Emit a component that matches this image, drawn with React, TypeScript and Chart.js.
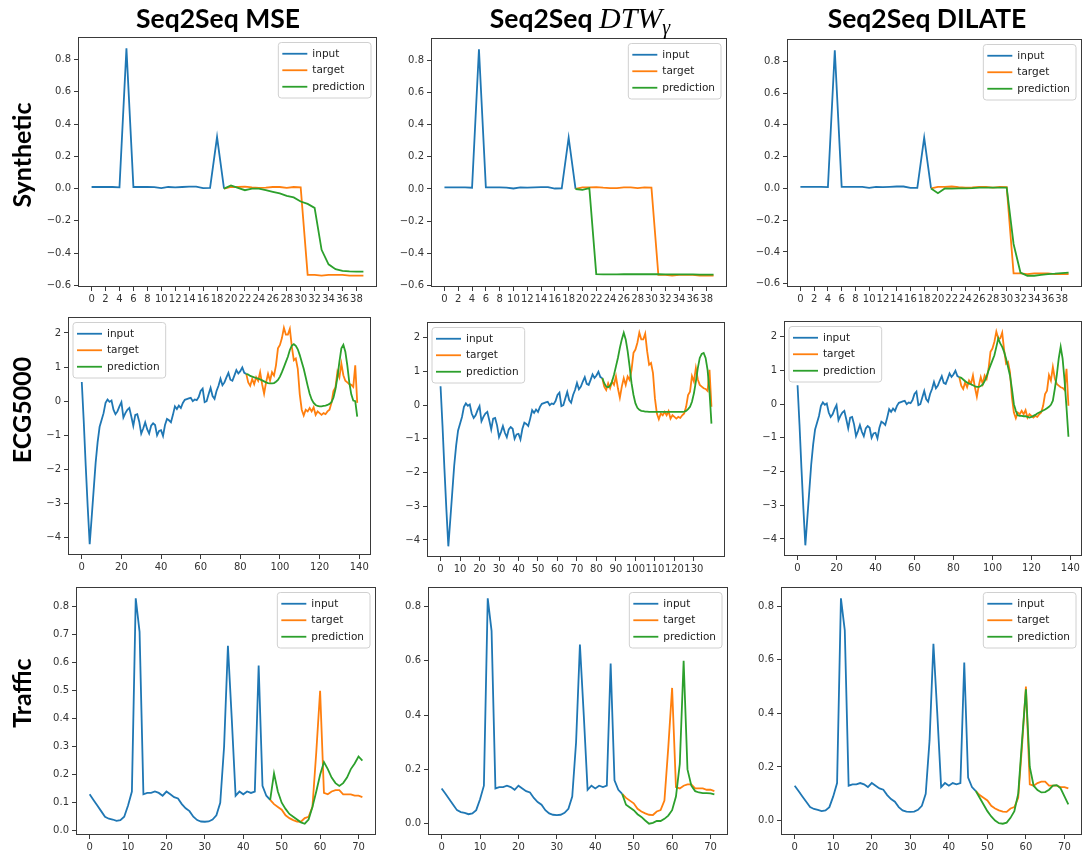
import React, { useEffect, useRef } from 'react';
import { Chart, registerables } from 'chart.js';

Chart.register(...registerables);

const BLUE = '#1f77b4';
const ORANGE = '#ff7f0e';
const GREEN = '#2ca02c';
const SPINE = '#3a3a3a';
const TEXT = '#333333';

// ---------- Synthetic ----------
const synthInput = [0.01, 0.01, 0.01, 0.01, 0.008, 0.87, 0.01, 0.01, 0.01, 0.009, 0.003, 0.01, 0.008, 0.01, 0.012, 0.012, 0.003, 0.004, 0.32, 0.0];
// target / prediction series start at the last input index (19)
const synthTarget = [0.0, 0.01, 0.01, 0.012, 0.008, 0.005, 0.006, 0.01, 0.01, 0.005, 0.01, 0.008, -0.535, -0.535, -0.54, -0.535, -0.535, -0.535, -0.54, -0.54, -0.54];
const synthPredMSE = [0.0, 0.02, 0.005, -0.01, 0.0, 0.0, -0.01, -0.02, -0.03, -0.045, -0.055, -0.08, -0.095, -0.12, -0.38, -0.47, -0.5, -0.51, -0.513, -0.515, -0.515];
const synthPredDTW = [0.0, -0.005, 0.005, -0.53, -0.532, -0.532, -0.532, -0.531, -0.531, -0.531, -0.531, -0.531, -0.531, -0.532, -0.532, -0.532, -0.532, -0.532, -0.533, -0.533, -0.533];
const synthPredDILATE = [0.0, -0.03, 0.0, -0.002, 0.0, 0.0, 0.002, 0.005, 0.005, 0.005, 0.005, 0.005, -0.35, -0.53, -0.55, -0.55, -0.545, -0.54, -0.537, -0.533, -0.53];
const synthXTicks = [0, 2, 4, 6, 8, 10, 12, 14, 16, 18, 20, 22, 24, 26, 28, 30, 32, 34, 36, 38];
const synthYTicks = [-0.6, -0.4, -0.2, 0, 0.2, 0.4, 0.6, 0.8];

// ---------- ECG5000 ----------
const ecgInput = [
  0.56, -0.6, -1.9, -3.1, -4.19, -3.4, -2.6, -1.8, -1.2, -0.75,
  -0.55, -0.35, -0.05, 0.05, -0.02, 0.02, -0.25, -0.38, -0.3, -0.15,
  -0.03, -0.48, -0.35, -0.25, -0.2, -0.45, -0.72, -0.4, -0.38, -0.6,
  -0.95, -0.8, -0.62, -0.82, -0.95, -0.72, -0.65, -0.7, -1.0, -0.87,
  -0.85, -1.02, -0.7, -0.52, -0.56, -0.62, -0.4, -0.15, -0.23, -0.13,
  -0.2, -0.05, 0.04, 0.06, 0.08, 0.1, 0.0, 0.05, 0.03, 0.12,
  0.3, 0.37, -0.03, 0.0, 0.2, 0.39, 0.15, 0.07, 0.3, 0.45,
  0.66, 0.47, 0.55, 0.7, 0.83, 0.63, 0.6, 0.75, 0.91, 0.81,
  0.88, 0.99, 0.83, 0.8,
];
// start at index 83
const ecgTarget = [
  0.8, 0.55, 0.45, 0.65, 0.5, 0.7, 0.6, 0.85, 0.5, 0.22,
  0.55, 0.8, 0.6, 0.85, 0.75, 1.05, 1.55, 1.65, 1.85, 2.15,
  1.95, 1.95, 2.12, 1.6, 1.2, 1.25, 0.95, 0.2, -0.25, -0.42,
  -0.25, -0.3, -0.2, -0.3, -0.18, -0.4, -0.3, -0.35, -0.4, -0.35,
  -0.38, -0.3, -0.25, -0.05, 0.3, 0.4, 0.86, 0.7, 1.1, 0.76,
  0.6, 0.55, 0.5, 0.48, 0.42, 1.05, -0.05,
];
const ecgPredMSE = [
  0.8, 0.78, 0.74, 0.72, 0.7, 0.68, 0.66, 0.64, 0.61, 0.58,
  0.55, 0.53, 0.52, 0.52, 0.53, 0.57, 0.62, 0.72, 0.85, 1.0,
  1.15, 1.3, 1.5, 1.63, 1.67, 1.62, 1.52, 1.35, 1.15, 0.95,
  0.7, 0.45, 0.22, 0.05, -0.05, -0.11, -0.14, -0.15, -0.15, -0.14,
  -0.13, -0.11, -0.08, -0.03, 0.1, 0.35, 0.7, 1.15, 1.55, 1.65,
  1.45, 1.05, 0.55, 0.2, 0.02, 0.0, -0.45,
];
const ecgPredDTW = [
  0.8, 0.65, 0.55, 0.53, 0.58, 0.7, 0.9, 1.15, 1.4, 1.7,
  1.95, 2.15, 1.95, 1.6, 1.15, 0.65, 0.3, 0.05, -0.08, -0.14,
  -0.17, -0.18, -0.19, -0.19, -0.2, -0.2, -0.2, -0.2, -0.2, -0.2,
  -0.2, -0.2, -0.2, -0.2, -0.2, -0.2, -0.2, -0.2, -0.2, -0.2,
  -0.2, -0.2, -0.19, -0.17, -0.12, -0.05, 0.1, 0.35, 0.7, 1.1,
  1.4, 1.52, 1.55, 1.4, 1.05, 0.4, -0.55,
];
const ecgPredDILATE = [
  0.8, 0.78, 0.73, 0.68, 0.64, 0.61, 0.59, 0.56, 0.53, 0.51,
  0.51, 0.54, 0.58, 0.68, 0.82, 1.0, 1.15, 1.3, 1.45, 1.7,
  1.95, 1.8, 1.7, 1.55, 1.35, 1.1, 0.85, 0.45, 0.0, -0.2,
  -0.33, -0.35, -0.35, -0.36, -0.36, -0.38, -0.4, -0.38, -0.35, -0.32,
  -0.28, -0.25, -0.22, -0.19, -0.16, -0.12, -0.08, -0.02, 0.1, 0.45,
  0.85, 1.35, 1.7, 1.35, 0.7, -0.1, -0.97,
];
const ecgXTicks = [0, 20, 40, 60, 80, 100, 120, 140];
const ecgXTicksDTW = [0, 10, 20, 30, 40, 50, 60, 70, 80, 90, 100, 110, 120, 130];
const ecgYTicks = [-4, -3, -2, -1, 0, 1, 2];

// ---------- Traffic ----------
const trafficInput = [
  0.13, 0.11, 0.09, 0.07, 0.05, 0.043, 0.04, 0.035, 0.038, 0.05,
  0.09, 0.14, 0.83, 0.71, 0.13, 0.135, 0.135, 0.14, 0.135, 0.125,
  0.14, 0.13, 0.12, 0.115, 0.095, 0.08, 0.07, 0.05, 0.038, 0.033,
  0.032, 0.033, 0.04, 0.055, 0.1, 0.3, 0.66, 0.4, 0.125, 0.14,
  0.13, 0.14, 0.135, 0.14, 0.59, 0.16, 0.125, 0.11,
];
// start at index 47
const trafficTarget = [
  0.11, 0.095, 0.085, 0.075, 0.055, 0.045, 0.038, 0.033, 0.032, 0.045,
  0.05, 0.085, 0.28, 0.5, 0.135, 0.13, 0.14, 0.145, 0.145, 0.13,
  0.13, 0.13, 0.125, 0.125, 0.12,
];
const trafficPredMSE = [
  0.11, 0.205, 0.14, 0.1, 0.078, 0.06, 0.05, 0.04, 0.03, 0.025,
  0.04, 0.085, 0.14, 0.2, 0.245, 0.22, 0.19, 0.17, 0.16, 0.17,
  0.19, 0.22, 0.24, 0.265, 0.25,
];
const trafficPredDTW = [
  0.11, 0.07, 0.06, 0.05, 0.035, 0.025, 0.012, 0.0, 0.003, 0.01,
  0.01, 0.018, 0.03, 0.05, 0.1, 0.22, 0.6, 0.2, 0.14, 0.12,
  0.115, 0.113, 0.113, 0.112, 0.108,
];
const trafficPredDILATE = [
  0.11, 0.085, 0.06, 0.035, 0.015, 0.0, -0.01, -0.012, -0.008, 0.01,
  0.035, 0.1, 0.3, 0.49, 0.2, 0.13, 0.114, 0.105, 0.106, 0.115,
  0.13, 0.132, 0.12, 0.09, 0.06,
];
const trafficXTicks = [0, 10, 20, 30, 40, 50, 60, 70];
const trafficYTicksFine = [0, 0.1, 0.2, 0.3, 0.4, 0.5, 0.6, 0.7, 0.8];
const trafficYTicks = [0, 0.2, 0.4, 0.6, 0.8];

const seriesLabels = ['input', 'target', 'prediction'];
const rowLabels = ['Synthetic', 'ECG5000', 'Traffic'];

// ---------- layout ----------
const YW = 52;
const XH = 24;
const PT = 12;
const PR = 14;

type PanelSpec = {
  frame: [number, number, number, number];
  input: number[];
  target: number[];
  pred: number[];
  xTicks: number[];
  yTicks: number[];
  yDec: number;
  legend: 'ul' | 'ur';
};

const panels: PanelSpec[] = [
  { frame: [78, 37, 377, 287], input: synthInput, target: synthTarget, pred: synthPredMSE, xTicks: synthXTicks, yTicks: synthYTicks, yDec: 1, legend: 'ur' },
  { frame: [431, 38, 727, 287], input: synthInput, target: synthTarget, pred: synthPredDTW, xTicks: synthXTicks, yTicks: synthYTicks, yDec: 1, legend: 'ur' },
  { frame: [787, 39, 1082, 287], input: synthInput, target: synthTarget, pred: synthPredDILATE, xTicks: synthXTicks, yTicks: synthYTicks, yDec: 1, legend: 'ur' },
  { frame: [68, 317, 371, 555], input: ecgInput, target: ecgTarget, pred: ecgPredMSE, xTicks: ecgXTicks, yTicks: ecgYTicks, yDec: 0, legend: 'ul' },
  { frame: [427, 322, 725, 557], input: ecgInput, target: ecgTarget, pred: ecgPredDTW, xTicks: ecgXTicksDTW, yTicks: ecgYTicks, yDec: 0, legend: 'ul' },
  { frame: [784, 321, 1082, 556], input: ecgInput, target: ecgTarget, pred: ecgPredDILATE, xTicks: ecgXTicks, yTicks: ecgYTicks, yDec: 0, legend: 'ul' },
  { frame: [76, 587, 376, 835], input: trafficInput, target: trafficTarget, pred: trafficPredMSE, xTicks: trafficXTicks, yTicks: trafficYTicksFine, yDec: 1, legend: 'ur' },
  { frame: [428, 587, 728, 835], input: trafficInput, target: trafficTarget, pred: trafficPredDTW, xTicks: trafficXTicks, yTicks: trafficYTicks, yDec: 1, legend: 'ur' },
  { frame: [781, 587, 1082, 835], input: trafficInput, target: trafficTarget, pred: trafficPredDILATE, xTicks: trafficXTicks, yTicks: trafficYTicks, yDec: 1, legend: 'ur' },
];

const fmt = (v: number, dec: number) => {
  const s = Math.abs(v).toFixed(dec);
  return (v < -1e-9 ? '\u2212' : '') + s;
};

const toXY = (start: number, arr: number[]) => arr.map((v, i) => ({ x: start + i, y: v }));

const framePlugin = {
  id: 'mplFrame',
  afterDraw(chart: any) {
    const { ctx, chartArea: ca } = chart;
    ctx.save();
    ctx.strokeStyle = SPINE;
    ctx.lineWidth = 1;
    ctx.strokeRect(Math.round(ca.left) + 0.5, Math.round(ca.top) + 0.5, Math.round(ca.right - ca.left) - 1, Math.round(ca.bottom - ca.top) - 1);
    ctx.restore();
  },
};

const legendPlugin = {
  id: 'mplLegend',
  afterDraw(chart: any, _args: any, opts: any) {
    const { ctx, chartArea: ca } = chart;
    const items = chart.data.datasets.map((d: any) => ({ label: d.label, color: d.borderColor }));
    ctx.save();
    ctx.font = '10.5px "DejaVu Sans"';
    const textW = Math.max(...items.map((i: any) => ctx.measureText(i.label).width));
    const rowH = 16.5;
    const pad = 3;
    const handle = 25;
    const gap = 5;
    const w = 4 + handle + gap + textW + 6;
    const h = pad * 2 + rowH * items.length;
    const x = opts.pos === 'ul' ? ca.left + 5 : ca.right - 6 - w;
    const y = ca.top + 5.5;
    ctx.beginPath();
    const r = 3;
    ctx.moveTo(x + r, y);
    ctx.lineTo(x + w - r, y);
    ctx.quadraticCurveTo(x + w, y, x + w, y + r);
    ctx.lineTo(x + w, y + h - r);
    ctx.quadraticCurveTo(x + w, y + h, x + w - r, y + h);
    ctx.lineTo(x + r, y + h);
    ctx.quadraticCurveTo(x, y + h, x, y + h - r);
    ctx.lineTo(x, y + r);
    ctx.quadraticCurveTo(x, y, x + r, y);
    ctx.closePath();
    ctx.fillStyle = 'rgba(255,255,255,0.85)';
    ctx.fill();
    ctx.strokeStyle = '#d0d0d0';
    ctx.lineWidth = 1;
    ctx.stroke();
    items.forEach((it: any, i: number) => {
      const cy = y + pad + rowH * (i + 0.5);
      ctx.strokeStyle = it.color;
      ctx.lineWidth = 1.8;
      ctx.beginPath();
      ctx.moveTo(x + 4, cy);
      ctx.lineTo(x + 4 + handle, cy);
      ctx.stroke();
      ctx.fillStyle = '#222';
      ctx.textBaseline = 'middle';
      ctx.textAlign = 'left';
      ctx.fillText(it.label, x + 4 + handle + gap, cy + 0.5);
    });
    ctx.restore();
  },
};

function Panel({ spec }: { spec: PanelSpec }) {
  const ref = useRef<HTMLCanvasElement | null>(null);
  const [l, t, r, b] = spec.frame;
  const width = YW + (r - l) + PR;
  const height = PT + (b - t) + XH;

  useEffect(() => {
    if (!ref.current) return;
    const start = spec.input.length - 1;
    const all = [...spec.input, ...spec.target, ...spec.pred];
    const yMin = Math.min(...all);
    const yMax = Math.max(...all);
    const yM = (yMax - yMin) * 0.05;
    const xLast = start + spec.target.length - 1;
    const xM = xLast * 0.05;
    const tickFont = { family: '"DejaVu Sans"', size: 10 };

    const chart = new Chart(ref.current, {
      type: 'line',
      data: {
        datasets: [
          { label: seriesLabels[0], data: toXY(0, spec.input), borderColor: BLUE, backgroundColor: BLUE, order: 3 },
          { label: seriesLabels[1], data: toXY(start, spec.target), borderColor: ORANGE, backgroundColor: ORANGE, order: 2 },
          { label: seriesLabels[2], data: toXY(start, spec.pred), borderColor: GREEN, backgroundColor: GREEN, order: 1 },
        ],
      },
      options: {
        responsive: false,
        animation: false,
        devicePixelRatio: 1,
        layout: { padding: { top: PT, right: PR, left: 0, bottom: 0 } },
        elements: { point: { radius: 0, hoverRadius: 0 }, line: { borderWidth: 1.8, tension: 0, fill: false } },
        plugins: {
          legend: { display: false },
          tooltip: { enabled: false },
          mplLegend: { pos: spec.legend },
        } as any,
        events: [],
        scales: {
          x: {
            type: 'linear',
            min: -xM,
            max: xLast + xM,
            afterBuildTicks: (s: any) => { s.ticks = spec.xTicks.map((v) => ({ value: v })); },
            afterFit: (s: any) => { s.height = XH; },
            ticks: { autoSkip: false, maxRotation: 0, minRotation: 0, font: tickFont, color: TEXT, padding: 2, callback: (v: any) => fmt(Number(v), 0) },
            grid: { drawOnChartArea: false, drawTicks: true, tickLength: 4, color: SPINE },
            border: { display: false },
          },
          y: {
            type: 'linear',
            min: yMin - yM,
            max: yMax + yM,
            afterBuildTicks: (s: any) => { s.ticks = spec.yTicks.map((v) => ({ value: v })); },
            afterFit: (s: any) => { s.width = YW; },
            ticks: { autoSkip: false, font: tickFont, color: TEXT, padding: 3, callback: (v: any) => fmt(Number(v), spec.yDec) },
            grid: { drawOnChartArea: false, drawTicks: true, tickLength: 4, color: SPINE },
            border: { display: false },
          },
        },
      } as any,
      plugins: [framePlugin, legendPlugin],
    });
    return () => chart.destroy();
  }, [spec]);

  return (
    <canvas
      ref={ref}
      width={width}
      height={height}
      style={{ position: 'absolute', left: l - YW, top: t - PT, width, height }}
    />
  );
}

const titleStyle: React.CSSProperties = {
  position: 'absolute',
  transform: 'translate(-50%, -50%)',
  fontFamily: 'Lato, "Open Sans", sans-serif',
  fontWeight: 700,
  fontSize: 26.5,
  lineHeight: 1,
  whiteSpace: 'nowrap',
  color: '#000',
};

const rowStyle: React.CSSProperties = {
  position: 'absolute',
  transform: 'translate(-50%, -50%) rotate(-90deg)',
  fontFamily: 'Lato, "Open Sans", sans-serif',
  fontWeight: 700,
  fontSize: 25,
  lineHeight: 1,
  whiteSpace: 'nowrap',
  color: '#000',
};

export default function App() {
  return (
    <div style={{ position: 'fixed', left: 0, top: 0, width: 1084, height: 857, overflow: 'hidden', background: '#fff' }}>
      {panels.map((p, i) => <Panel key={i} spec={p} />)}
      <div style={{ ...titleStyle, left: 218, top: 18 }}>Seq2Seq MSE</div>
      <div style={{ ...titleStyle, left: 580, top: 18 }}>
        Seq2Seq{' '}
        <span style={{ fontFamily: '"Liberation Serif", serif', fontStyle: 'italic', fontWeight: 400, fontSize: 30 }}>
          DTW<span style={{ fontSize: 20, position: 'relative', top: 6 }}>γ</span>
        </span>
      </div>
      <div style={{ ...titleStyle, left: 927, top: 18 }}>Seq2Seq DILATE</div>
      <div style={{ ...rowStyle, left: 21, top: 155 }}>{rowLabels[0]}</div>
      <div style={{ ...rowStyle, left: 21, top: 410 }}>{rowLabels[1]}</div>
      <div style={{ ...rowStyle, left: 21, top: 693 }}>{rowLabels[2]}</div>
    </div>
  );
}
